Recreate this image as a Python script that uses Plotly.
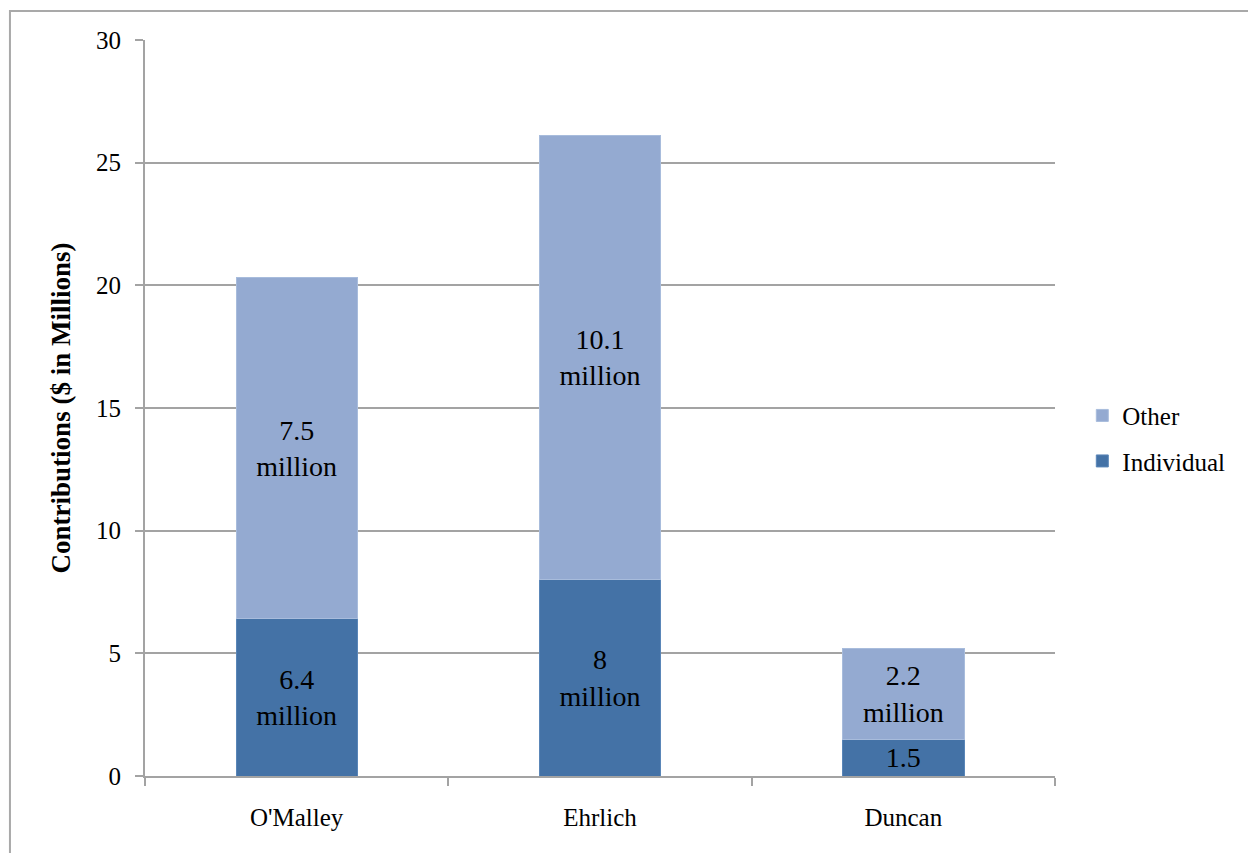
import plotly.graph_objects as go

# Campaign contributions by candidate ($ millions)
candidates = ["O'Malley", "Ehrlich", "Duncan"]
individual = [6.4, 8.0, 1.5]
other = [7.5, 10.1, 2.2]
individual_labels = ["6.4<br>million", "8<br>million", "1.5"]
other_labels = ["7.5<br>million", "10.1<br>million", "2.2<br>million"]
y_ticks = [0, 5, 10, 15, 20, 25, 30]

# The upper segment is plotted as individual + other, stacked on individual
other_plotted = [i + o for i, o in zip(individual, other)]

FONT = "Liberation Serif"
GRID = "#a3a3a3"
C_IND = "#4472a6"
C_OTH = "#94aad1"

fig = go.Figure()
fig.add_trace(go.Bar(
    x=candidates, y=individual, name="Individual",
    marker=dict(color=C_IND, line=dict(color="#5a86b8", width=1)),
    text=individual_labels, textposition="inside", insidetextanchor="middle",
    textfont=dict(family=FONT, size=28, color="black"),
    legendgroup="ind", legendrank=2,
))
fig.add_trace(go.Bar(
    x=candidates, y=other_plotted, name="Other",
    marker=dict(color=C_OTH, line=dict(color="#a8bcdc", width=1)),
    text=other_labels, textposition="inside", insidetextanchor="middle",
    textfont=dict(family=FONT, size=28, color="black"),
    legendgroup="oth", legendrank=1,
))

fig.update_layout(
    barmode="stack",
    bargap=0.6,
    width=1248, height=853,
    margin=dict(l=145, r=193, t=40, b=77),
    paper_bgcolor="white",
    plot_bgcolor="white",
    font=dict(family=FONT, size=25, color="black"),
    uniformtext=dict(mode="show", minsize=28),
    showlegend=True,
    legend=dict(
        x=1.03, xanchor="left", y=0.459, yanchor="middle",
        traceorder="grouped", tracegroupgap=10,
        font=dict(family=FONT, size=25, color="black"),
        bgcolor="rgba(0,0,0,0)",
    ),
    xaxis=dict(
        type="category",
        showgrid=False,
        showline=True, linecolor=GRID, linewidth=2,
        ticks="outside", tickson="boundaries", ticklen=8,
        tickcolor=GRID, tickwidth=2,
        ticklabelstandoff=18,
        tickfont=dict(family=FONT, size=25, color="black"),
    ),
    yaxis=dict(
        range=[0, 30],
        tickvals=y_ticks,
        showgrid=True, gridcolor=GRID, gridwidth=2,
        showline=True, linecolor=GRID, linewidth=2,
        ticks="outside", ticklen=8, tickcolor=GRID, tickwidth=2,
        ticklabelstandoff=9,
        zeroline=False,
        tickfont=dict(family=FONT, size=25, color="black"),
        title=dict(text="<b>Contributions ($ in Millions)</b>",
                   font=dict(family=FONT, size=27, color="black"),
                   standoff=18),
    ),
    shapes=[dict(
        type="rect", xref="paper", yref="paper",
        x0=-0.1484, x1=1.4, y0=-0.2, y1=1.0394,
        line=dict(color="#a9a9a9", width=2), fillcolor="rgba(0,0,0,0)",
        layer="below",
    )],
)

fig.write_html("out.html")
